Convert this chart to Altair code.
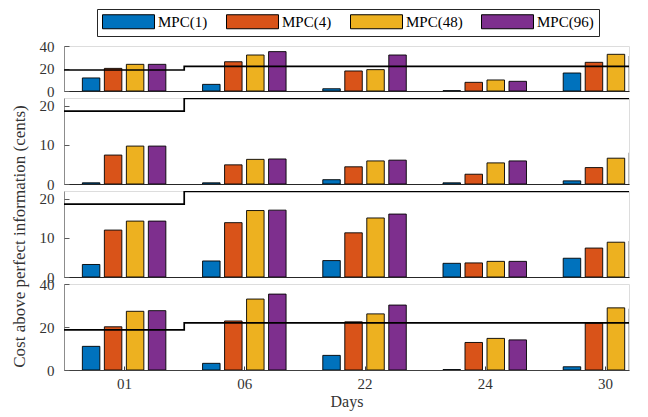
import altair as alt
import pandas as pd

days = ["01", "06", "22", "24", "30"]
series = ["MPC(1)", "MPC(4)", "MPC(48)", "MPC(96)"]
colors = ["#0072BD", "#D95319", "#EDB120", "#7E2F8E"]

# panel 1 (top)
p1_mpc1 = [11.6, 5.9, 2.0, 0.3, 16.0]
p1_mpc4 = [20.1, 26.0, 17.8, 7.7, 25.5]
p1_mpc48 = [23.7, 32.0, 19.0, 9.8, 32.6]
p1_mpc96 = [23.7, 35.0, 32.0, 8.6, 31.1]
# panel 2
p2_mpc1 = [0.3, 0.3, 1.1, 0.3, 0.8]
p2_mpc4 = [7.4, 4.9, 4.4, 2.5, 4.2]
p2_mpc48 = [9.7, 6.3, 5.9, 5.4, 6.6]
p2_mpc96 = [9.7, 6.4, 6.1, 5.9, 8.0]
# panel 3
p3_mpc1 = [3.2, 4.1, 4.2, 3.5, 4.8]
p3_mpc4 = [12.0, 13.9, 11.3, 3.6, 7.4]
p3_mpc48 = [14.3, 17.0, 15.1, 4.0, 8.9]
p3_mpc96 = [14.3, 17.1, 16.1, 4.0, 9.2]
# panel 4 (bottom)
p4_mpc1 = [11.0, 3.1, 6.8, 0.2, 1.5]
p4_mpc4 = [20.1, 22.8, 22.4, 12.8, 21.8]
p4_mpc48 = [27.3, 33.0, 26.1, 14.7, 28.9]
p4_mpc96 = [27.6, 35.3, 30.2, 14.0, 28.5]

# tariff step (cents) over day index
tariff_x = [0.5, 1.5, 5.2]
tariff_y = [18.65, 21.9, 21.9]

panels = [
    [p1_mpc1, p1_mpc4, p1_mpc48, p1_mpc96],
    [p2_mpc1, p2_mpc4, p2_mpc48, p2_mpc96],
    [p3_mpc1, p3_mpc4, p3_mpc48, p3_mpc96],
    [p4_mpc1, p4_mpc4, p4_mpc48, p4_mpc96],
]
y_domains = [[0, 40], [0, 22], [0, 22], [0, 40]]
y_ticks = [[0, 20, 40], [0, 10, 20], [0, 10, 20], [0, 20, 40]]
x_ticks = [1, 2, 3, 4, 5]
heights = [45, 86, 86, 86]

W = 565
X_DOMAIN = [0.5, 5.2]
BAR_STEP = 0.183
BAR_W = 0.1455
FONT = "Liberation Serif"

step_df = pd.DataFrame({"x": tariff_x, "y": tariff_y})

label_expr = "[" + ",".join(f"'{d}'" for d in days) + "][datum.value - 1]"

legend = alt.Legend(
    title=None, orient="none", legendX=33, legendY=-37,
    direction="horizontal", columns=4,
    symbolType="M-3.714,-1H3.714V1H-3.714Z", symbolSize=196,
    symbolOffset=19,
    symbolStrokeColor="black", symbolStrokeWidth=1, symbolOpacity=1,
    labelFont=FONT, labelFontSize=15, labelColor="black", labelOffset=22,
    columnPadding=16, padding=5, strokeColor="#262626", fillColor="white",
)


def make_panel(i):
    rows = []
    for s_idx, (name, vals) in enumerate(zip(series, panels[i])):
        for d_idx, v in enumerate(vals):
            rows.append({"day": days[d_idx], "series": name, "value": v,
                         "x0": d_idx + 1 + (s_idx - 1.5) * BAR_STEP - BAR_W / 2,
                         "x1": d_idx + 1 + (s_idx - 1.5) * BAR_STEP + BAR_W / 2})
    df = pd.DataFrame(rows)
    h = heights[i]
    bottom = i == 3
    if bottom:
        xaxis = alt.Axis(values=x_ticks, labelExpr=label_expr, title="Days",
                         ticks=False, tickSize=0, labelPadding=6, grid=False,
                         labelFont=FONT, labelFontSize=15, labelColor="#333333",
                         titleFont=FONT, titleFontSize=16, titleColor="#333333",
                         titleFontWeight="normal", titlePadding=2,
                         domainColor="#404040", labelOverlap=False)
        xaxis_in = alt.Axis(orient="top", offset=-h, values=x_ticks, labels=False,
                            domain=False, ticks=True, tickSize=4, tickColor="#404040",
                            grid=False, title=None)
    else:
        xaxis = alt.Axis(labels=False, ticks=False, tickSize=0, title=None, grid=False,
                         domainColor="#262626")
        xaxis_in = None
    yargs = dict(values=y_ticks[i], ticks=False, tickSize=0, labelPadding=10, grid=False,
                 labelFont=FONT, labelFontSize=15, labelColor="#333333",
                 domainColor="#8c8c8c", title=None)
    if i == 2:
        yargs.update(title="Cost above perfect information (cents)", titleFont=FONT,
                     titleFontSize=17, titleColor="#333333", titleFontWeight="normal",
                     titleX=-45, titleY=45, titleBaseline="middle")
    yaxis = alt.Axis(**yargs)
    yaxis_in = alt.Axis(orient="right", offset=-W, values=y_ticks[i], labels=False,
                        domain=False, ticks=True, tickSize=5, tickColor="#595959",
                        grid=False, title=None)
    bars = alt.Chart(df).mark_rect(stroke="black", strokeWidth=0.9, clip=True).encode(
        x=alt.X("x0:Q", scale=alt.Scale(domain=X_DOMAIN, nice=False, zero=False), axis=xaxis),
        x2="x1:Q",
        y=alt.Y("value:Q", scale=alt.Scale(domain=y_domains[i], nice=False), axis=yaxis),
        y2=alt.datum(0),
        color=alt.Color("series:N", scale=alt.Scale(domain=series, range=colors), legend=legend),
    )
    line = alt.Chart(step_df).mark_line(interpolate="step-after", color="black",
                                        strokeWidth=1.7, clip=True).encode(
        x=alt.X("x:Q", axis=xaxis_in), y=alt.Y("y:Q", axis=yaxis_in))
    return alt.layer(bars, line).resolve_axis(x="independent", y="independent").properties(
        width=W, height=h)


chart = alt.vconcat(*[make_panel(i) for i in range(4)], spacing=7, bounds="flush").properties(
    padding={"left": 1, "top": 0, "right": 5, "bottom": 2}
).configure_view(stroke=None).configure(background="white")

chart.save("out.html", embed_options={"renderer": "svg", "actions": False})
